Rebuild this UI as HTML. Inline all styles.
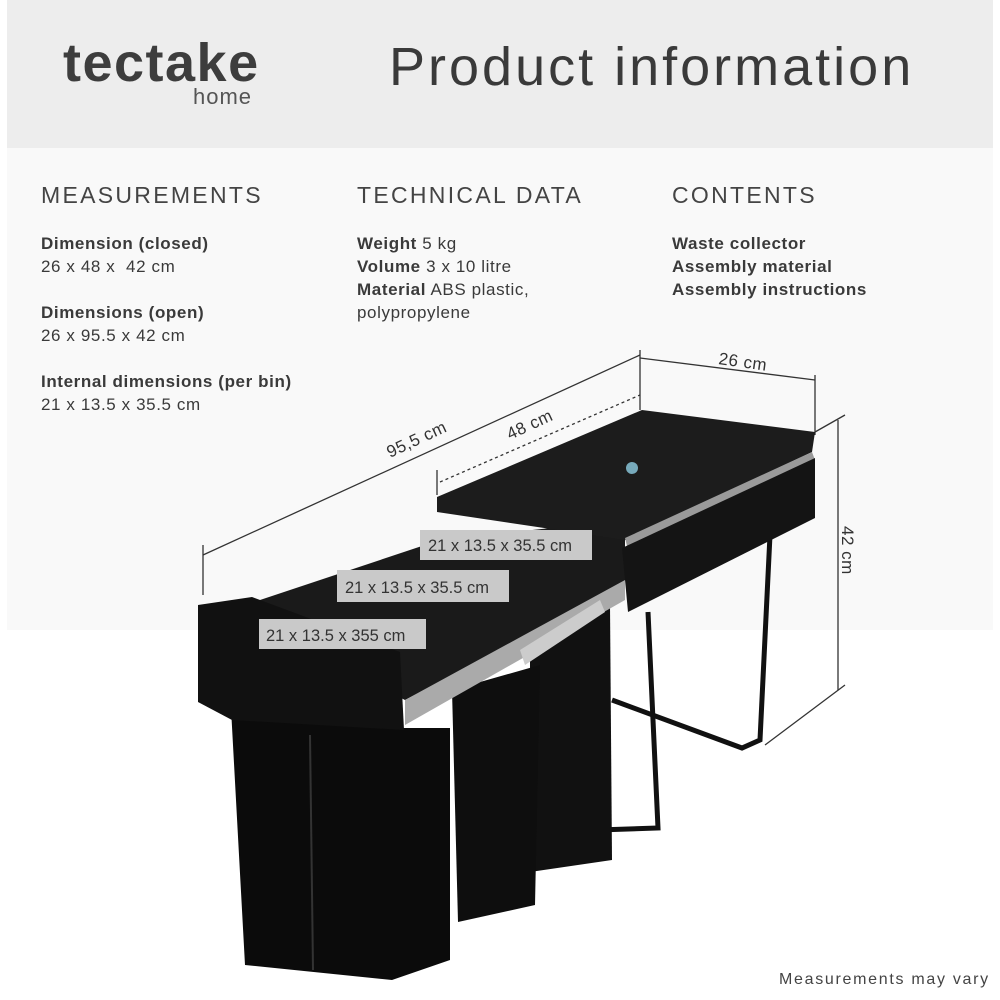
<!DOCTYPE html>
<html><head><meta charset="utf-8"><style>
body{margin:0;width:1000px;height:1000px;background:#fff;position:relative;overflow:hidden;font-family:"Liberation Sans",sans-serif;color:#3a3a3a}
.a{position:absolute;white-space:nowrap}
.h{font-size:23px;letter-spacing:2.3px;color:#444}
.t{font-size:17px;line-height:23px;letter-spacing:0.6px}
b{font-weight:bold}
</style></head><body>
<div class="a" style="left:7px;top:0;width:986px;height:148px;background:#ededed"></div>
<div class="a" style="left:7px;top:148px;width:986px;height:482px;background:#f9f9f9"></div>
<div class="a" style="left:63px;top:32px;font-size:54px;font-weight:bold;color:#3d3d3d;letter-spacing:1.5px">tectake</div>
<div class="a" style="left:193px;top:84px;font-size:22px;color:#555;letter-spacing:1px">home</div>
<div class="a" style="left:389px;top:36px;font-size:54px;color:#3a3a3a;letter-spacing:3px">Product information</div>
<div class="a h" style="left:41px;top:182px">MEASUREMENTS</div>
<div class="a h" style="left:357px;top:182px">TECHNICAL DATA</div>
<div class="a h" style="left:672px;top:182px">CONTENTS</div>
<div class="a t" style="left:41px;top:232px"><b>Dimension (closed)</b><br>26 x 48 x&nbsp; 42 cm</div>
<div class="a t" style="left:41px;top:301px"><b>Dimensions (open)</b><br>26 x 95.5 x 42 cm</div>
<div class="a t" style="left:41px;top:370px"><b>Internal dimensions (per bin)</b><br>21 x 13.5 x 35.5 cm</div>
<div class="a t" style="left:357px;top:232px"><b>Weight</b> 5 kg<br><b>Volume</b> 3 x 10 litre<br><b>Material</b> ABS plastic,<br>polypropylene</div>
<div class="a t" style="left:672px;top:232px"><b>Waste collector<br>Assembly material<br>Assembly instructions</b></div>
<svg class="a" style="left:0;top:0" width="1000" height="1000">
<g stroke="#333" stroke-width="1.3" fill="none">
<line x1="203" y1="555" x2="640" y2="355"/><line x1="203" y1="545" x2="203" y2="595"/><line x1="640" y1="350" x2="640" y2="410"/>
<line x1="440" y1="482" x2="640" y2="395" stroke-dasharray="3,3"/><line x1="437" y1="470" x2="437" y2="495"/>
<line x1="640" y1="358" x2="815" y2="380"/><line x1="815" y1="375" x2="815" y2="435"/>
<line x1="838" y1="420" x2="838" y2="690"/><line x1="815" y1="432" x2="845" y2="415"/><line x1="845" y1="685" x2="765" y2="745"/>
</g>
<g fill="#333" font-size="17" font-family="Liberation Sans,sans-serif" letter-spacing="0.5">
<text x="0" y="0" transform="translate(390,458) rotate(-25)">95,5 cm</text>
<text x="0" y="0" transform="translate(510,440) rotate(-25)">48 cm</text>
<text x="0" y="0" transform="translate(718,364) rotate(8)">26 cm</text>
<text x="0" y="0" transform="translate(842,526) rotate(90)">42 cm</text>
</g>
<g stroke="#111" stroke-width="5" fill="none">
<path d="M648 612 L658 828 L598 830"/><path d="M770 535 L760 740 L742 748 L612 700"/>
</g>
<polygon points="530,640 610,605 612,860 530,872" fill="#111"/>
<polygon points="452,690 540,665 535,905 458,922" fill="#0e0e0e"/>
<polygon points="230,690 402,728 450,728 450,960 392,980 245,965" fill="#0b0b0b"/>
<line x1="310" y1="735" x2="313" y2="970" stroke="#333" stroke-width="2"/>
<polygon points="230,610 440,540 625,520 625,585 405,700" fill="#1a1a1a"/>
<polygon points="405,700 625,580 625,600 405,725" fill="#aaa"/>
<polygon points="520,650 600,600 605,612 525,665" fill="#ccc"/>
<polygon points="198,605 252,597 400,652 404,730 232,720 198,702" fill="#111"/>
<polygon points="437,497 642,410 815,432 812,452 625,540 437,512" fill="#1c1c1c"/>
<polygon points="625,538 812,452 815,460 628,550" fill="#9a9a9a"/>
<polygon points="622,548 815,458 815,518 628,612" fill="#141414"/>
<circle cx="632" cy="468" r="6" fill="#7ab"/>
<g fill="#c9c9c9"><rect x="420" y="530" width="172" height="30"/><rect x="337" y="570" width="172" height="32"/><rect x="259" y="619" width="167" height="30"/></g>
<g fill="#333" font-size="16.5" font-family="Liberation Sans,sans-serif">
<text x="428" y="551">21 x 13.5 x 35.5 cm</text><text x="345" y="593">21 x 13.5 x 35.5 cm</text><text x="266" y="641">21 x 13.5 x 355 cm</text>
</g>
</svg>
<div class="a" style="left:779px;top:971px;font-size:16px;color:#444;letter-spacing:1.7px">Measurements may vary</div>
</body></html>
